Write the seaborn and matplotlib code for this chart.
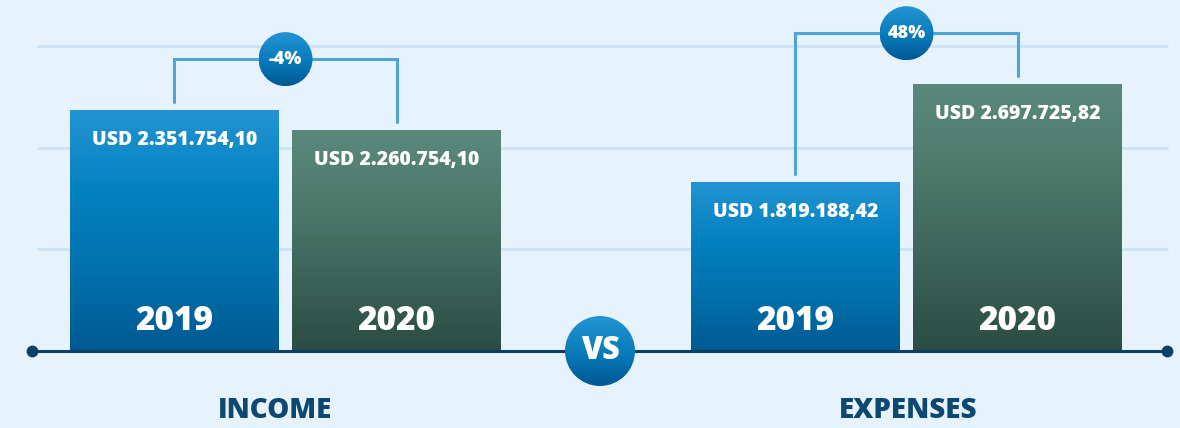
import numpy as np
import pandas as pd
import matplotlib
matplotlib.use("Agg")
import matplotlib.pyplot as plt
from matplotlib.colors import LinearSegmentedColormap
from matplotlib.patches import Ellipse
import seaborn as sns

# ---- data ----
categories = ["INCOME", "EXPENSES"]
years = ["2019", "2020"]
bar_heights_2019 = [2.37, 1.66]      # visual bar heights, in gridline units
bar_heights_2020 = [2.17, 2.625]
amount_labels_2019 = ["USD 2.351.754,10", "USD 1.819.188,42"]
amount_labels_2020 = ["USD 2.260.754,10", "USD 2.697.725,82"]
change_labels = ["-4%", "48%"]
grid_levels = [1, 2, 3]

df = pd.DataFrame({
    "category": categories * 2,
    "year": [years[0]] * 2 + [years[1]] * 2,
    "height": bar_heights_2019 + bar_heights_2020,
})

# ---- style ----
BG = "#e6f3fc"
GRID = "#cde4f4"
NAVY = "#0b3f66"
LABEL = "#0d4870"
BRACKET = "#4fa6d6"
BLUE_STOPS = ["#005a92", "#0271ad", "#0581c0", "#2394d3"]
GREEN_STOPS = ["#2b4c43", "#3d6358", "#4d796b", "#5a897b"]
FONT = ["Open Sans", "DejaVu Sans"]
WEIGHT = 800

sns.set_theme(style="white")
plt.rcParams["font.family"] = FONT

W, H = 1180, 428
fig = plt.figure(figsize=(W / 100, H / 100), dpi=100, facecolor=BG)
ax = fig.add_axes([0, 0, 1, 1])
ax.set_facecolor(BG)

PX_X = 621.0   # px per category unit
PX_Y = 101.7   # px per y unit
X0_PX, Y0_PX = 285.5, 351.0
xlim = (-X0_PX / PX_X, (W - X0_PX) / PX_X)
ylim = (-(H - Y0_PX) / PX_Y, Y0_PX / PX_Y)

sns.barplot(data=df, x="category", y="height", hue="year", order=categories,
            hue_order=years, palette=[BLUE_STOPS[-1], GREEN_STOPS[-1]],
            width=0.715, gap=0.063, dodge=True, legend=False, ax=ax, zorder=3,
            linewidth=0, saturation=1)

def px2x(p):
    return (p - X0_PX) / PX_X

# gridlines and baseline
ax.hlines(grid_levels, px2x(37), px2x(1168), color=GRID, lw=2.2, zorder=1)
ax.plot([px2x(32), px2x(1167)], [0, 0], color=NAVY, lw=2.2, zorder=5,
        solid_capstyle="butt")
ax.plot([px2x(32), px2x(1167)], [0, 0], ls="none", marker="o", ms=7.5,
        color=NAVY, zorder=6)

def grad_fill(patch, stops, z):
    x0, y0 = patch.get_x(), patch.get_y()
    x1, y1 = x0 + patch.get_width(), y0 + patch.get_height()
    cmap = LinearSegmentedColormap.from_list("g", stops)
    grad = np.linspace(0, 1, 256).reshape(-1, 1)
    im = ax.imshow(grad, extent=[x0, x1, y0, y1], origin="lower", cmap=cmap,
                   aspect="auto", zorder=z, interpolation="bilinear")
    im.set_clip_path(patch)
    patch.set_facecolor("none")

def grad_ellipse(xc, yc, rpx, z):
    e = Ellipse((xc, yc), 2 * rpx / PX_X, 2 * rpx / PX_Y, facecolor="none",
                edgecolor="none", zorder=z)
    ax.add_patch(e)
    cmap = LinearSegmentedColormap.from_list("c", ["#005893", "#0a7dbd", "#2394d3"])
    grad = np.linspace(0, 1, 256).reshape(-1, 1)
    im = ax.imshow(grad, extent=[xc - rpx / PX_X, xc + rpx / PX_X,
                                 yc - rpx / PX_Y, yc + rpx / PX_Y],
                   origin="lower", cmap=cmap, aspect="auto", zorder=z,
                   interpolation="bilinear")
    im.set_clip_path(e)

stop_sets = [BLUE_STOPS, GREEN_STOPS]
label_sets = [amount_labels_2019, amount_labels_2020]
centers = {}
for hi, cont in enumerate(ax.containers):
    for ci, bar in enumerate(cont):
        grad_fill(bar, stop_sets[hi], 3)
        xc = bar.get_x() + bar.get_width() / 2
        h = bar.get_height()
        centers[(ci, hi)] = (xc, h)
        ax.text(xc, h - 30 / PX_Y, label_sets[hi][ci], color="white",
                fontsize=14, fontweight=WEIGHT, ha="center", va="center", zorder=7)
        ax.text(xc, 30 / PX_Y, years[hi], color="white", fontsize=24,
                fontweight=WEIGHT, ha="center", va="center", zorder=7)

# brackets with change circles
for ci, cat in enumerate(categories):
    (xa, ha), (xb, hb) = centers[(ci, 0)], centers[(ci, 1)]
    top = max(ha, hb) + 0.5
    gap = 8 / PX_Y
    ax.plot([xa, xa, xb, xb], [ha + gap, top, top, hb + gap], color=BRACKET,
            lw=2.2, zorder=4, solid_joinstyle="miter")
    xm = (xa + xb) / 2
    grad_ellipse(xm, top, 27, 8)
    ax.text(xm, top, change_labels[ci], color="white", fontsize=13,
            fontweight=WEIGHT, ha="center", va="center", zorder=9)
    ax.text(ci - 10 / PX_X if ci == 0 else ci + 2 / PX_X, -59.5 / PX_Y, cat,
            color=LABEL, fontsize=20, fontweight=WEIGHT, ha="center",
            va="center", zorder=7)

# VS circle
grad_ellipse(0.5 + 4 / PX_X, 0, 35, 8)
ax.text(0.5 + 4 / PX_X, 0, "VS", color="white", fontsize=22, fontweight=WEIGHT,
        ha="center", va="center", zorder=9)

ax.set_xlim(*xlim)
ax.set_ylim(*ylim)
ax.axis("off")
fig.savefig("out.png", dpi=100, facecolor=BG)
